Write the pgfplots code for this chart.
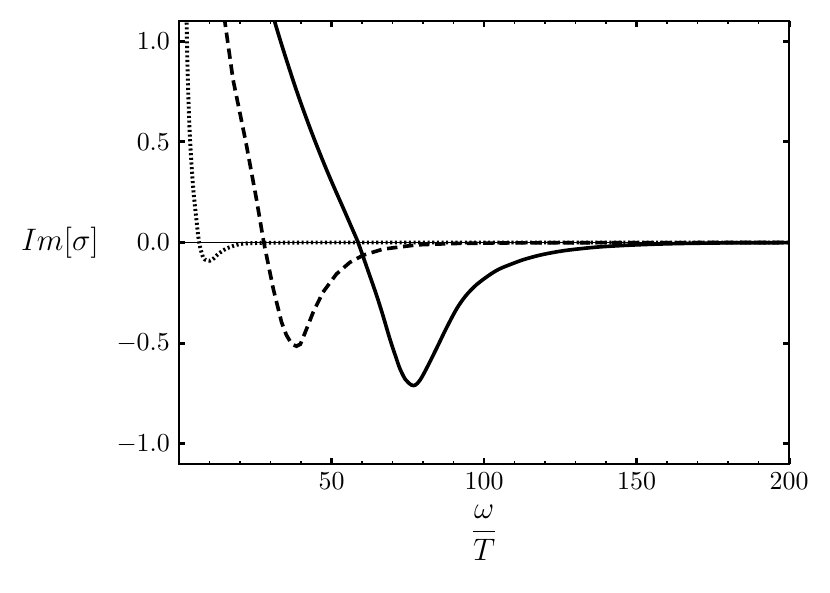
\documentclass[border=0pt]{standalone}
\usepackage{amsmath}
\usepackage{pgfplots}
\pgfplotsset{compat=1.18}

\begin{document}
\begin{tikzpicture}
% page box: reference is 830x593 px, 1 px ~ 0.386pt, axis box at px (179..789, 21..464)
\path[use as bounding box] (-69.1pt,-49.8pt) rectangle (251.3pt,179.1pt);
\begin{axis}[
  scale only axis,
  width=235.5pt, height=171pt,
  xmin=0, xmax=200,
  ymin=-1.1, ymax=1.1,
  xtick={50,100,150,200},
  minor xtick={10,20,30,40,60,70,80,90,110,120,130,140,160,170,180,190},
  ytick={-1,-0.5,0,0.5,1},
  yticklabel style={/pgf/number format/.cd, fixed, fixed zerofill, precision=1},
  xtick pos=both, ytick pos=both,
  tick align=inside,
  major tick length=2.4pt,
  minor tick length=1.3pt,
  major tick style={line width=1.1pt, black},
  minor tick style={line width=0.5pt, black},
  axis line style={line width=0.5pt},
  xlabel={$\dfrac{\omega}{T}$},
  xlabel style={font=\large, at={(axis description cs:0.5,-0.155)}, anchor=center},
  ylabel={$Im[\sigma]$},
  ylabel style={font=\fontsize{12.5}{15}\selectfont, rotate=-90, at={(axis description cs:-0.195,0.5)}, anchor=center},
]
% zero line
\addplot[black, line width=0.6pt] coordinates {(0,0) (200,0)};

% dotted curve
\addplot[black, line width=1.5pt, dash pattern=on 0.8pt off 1.0pt, smooth] coordinates {
  (2.2,1.3) (2.5,1.1) (2.8,0.86) (3.5,0.545) (4.6,0.28) (5.7,0.115) (6.6,0)
  (7.9,-0.074) (9,-0.088) (10.1,-0.091) (11.5,-0.078) (12.8,-0.058)
  (15.6,-0.03) (20,-0.008) (25,-0.003) (35,-0.001) (60,0) (200,0)
};

% dashed curve
\addplot[black, line width=1.4pt, dash pattern=on 4pt off 2.2pt] coordinates {
  (14,1.2) (15,1.1) (17.7,0.81) (21.9,0.5) (25.4,0.214) (27.8,0)
  (30.9,-0.23) (33.6,-0.395) (35.2,-0.46) (37,-0.505) (38.5,-0.515) (39.8,-0.505)
  (41.2,-0.453) (44,-0.346) (47.2,-0.247) (51.6,-0.157) (56,-0.099)
  (60.4,-0.063) (66.9,-0.033) (77.9,-0.012) (90,-0.005) (110,-0.002)
  (140,-0.001) (200,0)
};

% solid curve
\addplot[black, line width=1.4pt, smooth] coordinates {
  (29,1.225) (31.4,1.095) (34,0.965) (37.4,0.805) (40,0.690) (42.9,0.570)
  (45.5,0.468) (48.4,0.360) (51,0.268) (53.8,0.172) (56.3,0.085) (58.7,0)
  (61.5,-0.12) (64.8,-0.264) (67,-0.37) (69.1,-0.478) (71,-0.565)
  (72.4,-0.626) (74.2,-0.68) (76.2,-0.708) (77.5,-0.708) (79,-0.684)
  (81,-0.63) (84.4,-0.527) (87.5,-0.43) (91,-0.33) (94,-0.265)
  (97.5,-0.21) (101.9,-0.16) (105,-0.132) (108.5,-0.110) (113,-0.085)
  (118.3,-0.063) (124,-0.046) (129.2,-0.035) (137,-0.023) (145.6,-0.015)
  (155,-0.009) (165,-0.005) (180,-0.002) (200,-0.001)
};
\end{axis}
\end{tikzpicture}
\end{document}
